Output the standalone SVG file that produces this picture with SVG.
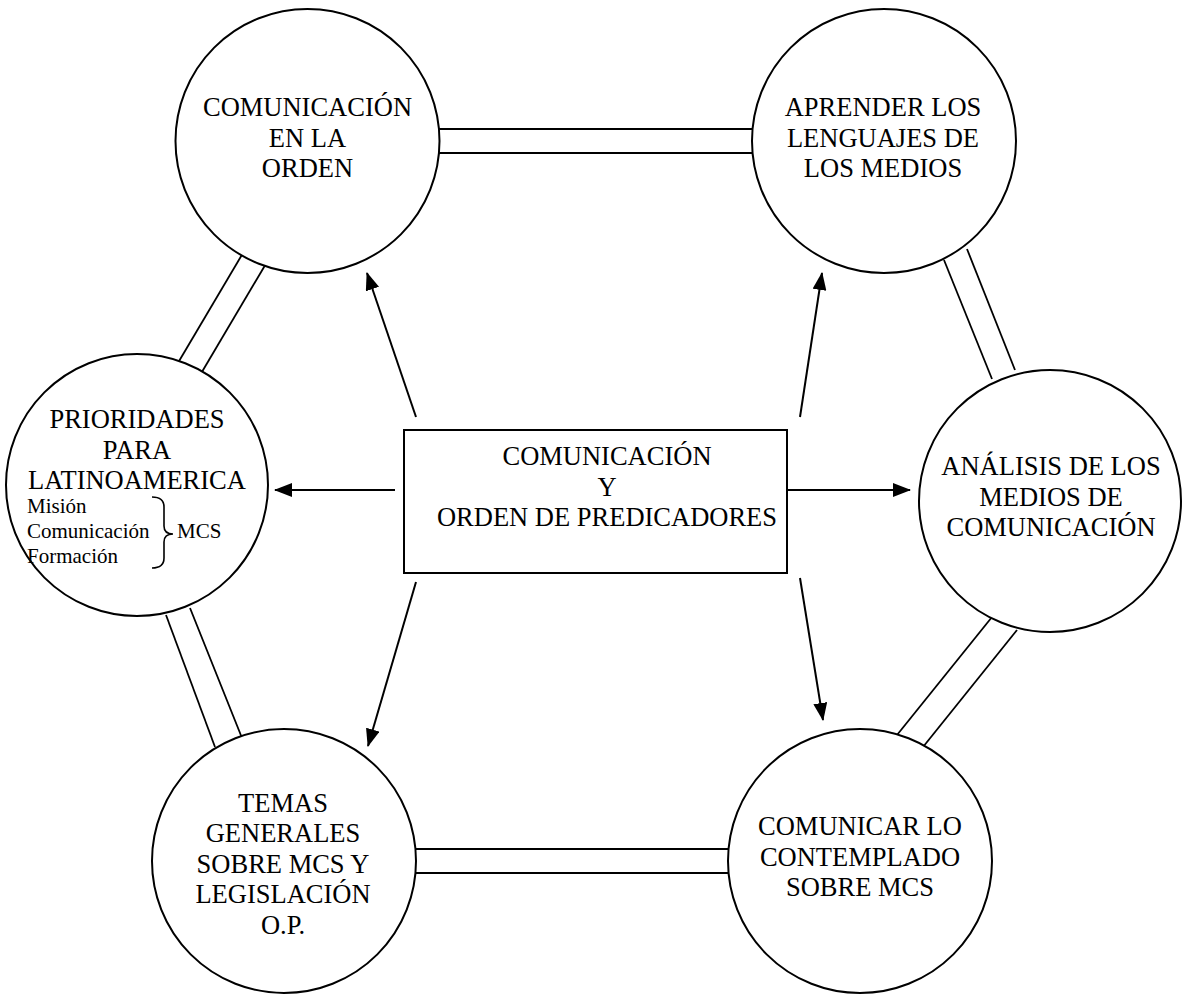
<svg xmlns="http://www.w3.org/2000/svg" width="1182" height="997" viewBox="0 0 1182 997">
<style>
  .node { fill: #ffffff; stroke: #000000; stroke-width: 2; }
  .t { font-family: 'Liberation Serif', 'Times New Roman', serif; font-size: 26.5px; fill: #000000; text-anchor: middle; }
  .s { font-family: 'Liberation Serif', 'Times New Roman', serif; font-size: 21px; fill: #000000; }
  .dbl { stroke: #000000; stroke-width: 1.8; fill: none; }
  .arr { stroke: #000000; stroke-width: 2; fill: none; marker-end: url(#ah); }
</style>
<defs>
  <marker id="ah" viewBox="0 0 18 14" refX="17" refY="7" markerWidth="18" markerHeight="14" markerUnits="userSpaceOnUse" orient="auto">
    <path d="M0,0 L18,7 L0,14 z" fill="#000000"/>
  </marker>
</defs>
<rect width="1182" height="997" fill="#ffffff"/>

<g id="connectors">
  <line class="dbl" x1="438" y1="129" x2="753" y2="129"/>
  <line class="dbl" x1="438" y1="153" x2="753" y2="153"/>
  <line class="dbl" x1="415" y1="849" x2="729" y2="849"/>
  <line class="dbl" x1="415" y1="873" x2="729" y2="873"/>
  <line class="dbl" x1="243" y1="253" x2="172" y2="373"/>
  <line class="dbl" x1="267" y1="262" x2="196" y2="382"/>
  <line class="dbl" x1="166" y1="615" x2="215" y2="747"/>
  <line class="dbl" x1="190" y1="608" x2="242" y2="738"/>
  <line class="dbl" x1="944" y1="260" x2="992" y2="379"/>
  <line class="dbl" x1="967" y1="249" x2="1015" y2="370"/>
  <line class="dbl" x1="992" y1="617" x2="897" y2="735"/>
  <line class="dbl" x1="1017" y1="630" x2="923" y2="747"/>
  <line class="arr" x1="416" y1="417" x2="367" y2="273"/>
  <line class="arr" x1="800" y1="417" x2="822" y2="273"/>
  <line class="arr" x1="395" y1="490" x2="275" y2="490"/>
  <line class="arr" x1="788" y1="490" x2="910" y2="490"/>
  <line class="arr" x1="416" y1="582" x2="368" y2="746"/>
  <line class="arr" x1="800" y1="578" x2="823" y2="720"/>
</g>

<g id="center">
  <rect class="node" x="404" y="430" width="383" height="143"/>
  <text class="t" x="607" y="465">COMUNICACIÓN</text>
  <text class="t" x="607" y="496">Y</text>
  <text class="t" x="607" y="526">ORDEN DE PREDICADORES</text>
</g>

<g id="comunicacion-orden">
  <circle class="node" cx="307.5" cy="141" r="132"/>
  <text class="t" x="307.5" y="116">COMUNICACIÓN</text>
  <text class="t" x="307.5" y="147">EN LA</text>
  <text class="t" x="307.5" y="177">ORDEN</text>
</g>

<g id="aprender-lenguajes">
  <circle class="node" cx="884" cy="141" r="132"/>
  <text class="t" x="883" y="116">APRENDER LOS</text>
  <text class="t" x="883" y="147">LENGUAJES DE</text>
  <text class="t" x="883" y="177">LOS MEDIOS</text>
</g>

<g id="analisis-medios">
  <circle class="node" cx="1050" cy="501" r="131"/>
  <text class="t" x="1051" y="475">ANÁLISIS DE LOS</text>
  <text class="t" x="1051" y="506">MEDIOS DE</text>
  <text class="t" x="1051" y="536">COMUNICACIÓN</text>
</g>

<g id="prioridades">
  <circle class="node" cx="137" cy="485" r="131"/>
  <text class="t" x="137" y="428">PRIORIDADES</text>
  <text class="t" x="137" y="459">PARA</text>
  <text class="t" x="137" y="489">LATINOAMERICA</text>
  <text class="s" x="27" y="513">Misión</text>
  <text class="s" x="27" y="538">Comunicación</text>
  <text class="s" x="27" y="563">Formación</text>
  <path d="M152,497 Q164,497 164,507 L164,526 Q164,534 173,534 Q164,534 164,542 L164,558 Q164,568 152,568" fill="none" stroke="#000000" stroke-width="1.6"/>
  <text class="s" x="177" y="538">MCS</text>
</g>

<g id="temas-generales">
  <circle class="node" cx="284" cy="861" r="132"/>
  <text class="t" x="283" y="812">TEMAS</text>
  <text class="t" x="283" y="842">GENERALES</text>
  <text class="t" x="283" y="873">SOBRE MCS Y</text>
  <text class="t" x="283" y="903">LEGISLACIÓN</text>
  <text class="t" x="283" y="934">O.P.</text>
</g>

<g id="comunicar-contemplado">
  <circle class="node" cx="860" cy="861" r="132"/>
  <text class="t" x="860" y="835">COMUNICAR LO</text>
  <text class="t" x="860" y="866">CONTEMPLADO</text>
  <text class="t" x="860" y="896">SOBRE MCS</text>
</g>
</svg>
